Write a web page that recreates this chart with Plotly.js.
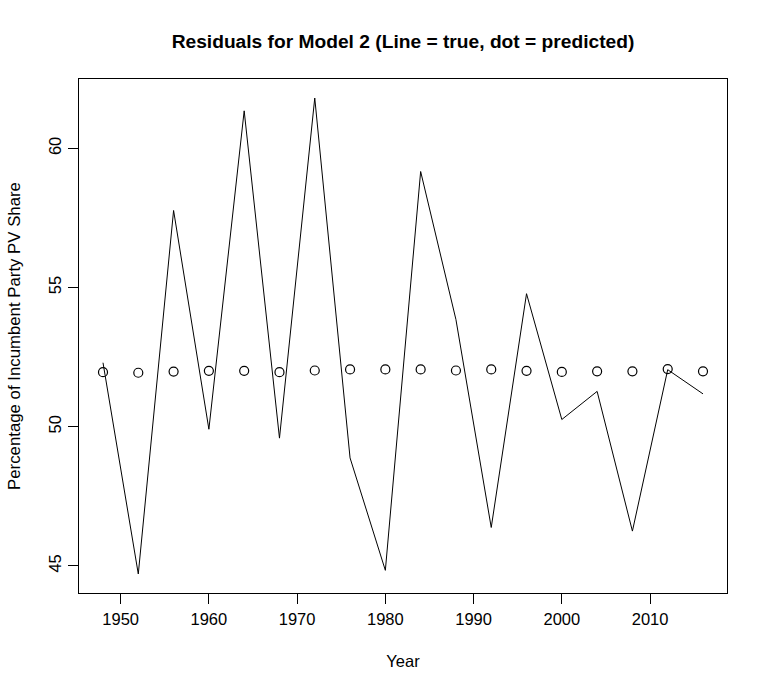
<!DOCTYPE html>
<html>
<head>
<meta charset="utf-8">
<script src="https://cdn.plot.ly/plotly-3.0.1.min.js"></script>
<style>html,body{margin:0;padding:0;background:#fff;}</style>
</head>
<body>
<div id="chart" style="width:768px;height:691px;"></div>
<script>
const years = [1948,1952,1956,1960,1964,1968,1972,1976,1980,1984,1988,1992,1996,2000,2004,2008,2012,2016];
const trueShare = [52.30,44.71,57.77,49.91,61.35,49.59,61.81,48.88,44.84,59.17,53.85,46.38,54.78,50.26,51.27,46.25,52.05,51.18];
const predShare = [51.96,51.94,51.98,52.01,52.01,51.96,52.02,52.06,52.06,52.06,52.02,52.06,52.01,51.97,51.99,51.99,52.07,51.99];
const xTicks = [1950,1960,1970,1980,1990,2000,2010];
const yTicks = [45,50,55,60];

const xmin = Math.min(...years), xmax = Math.max(...years);
const allY = trueShare.concat(predShare);
const ymin = Math.min(...allY), ymax = Math.max(...allY);
const xpad = (xmax - xmin) * 0.04, ypad = (ymax - ymin) * 0.04;

const font = "Liberation Sans, Arial, Helvetica, sans-serif";

const traces = [
  {x: years, y: trueShare, type: 'scatter', mode: 'lines',
   line: {color: '#000', width: 1}, hoverinfo: 'skip'},
  {x: years, y: predShare, type: 'scatter', mode: 'markers',
   marker: {symbol: 'circle-open', size: 9, color: '#000', line: {width: 1.2, color: '#000'}}, hoverinfo: 'skip'}
];

const layout = {
  width: 768, height: 691,
  margin: {l: 79, r: 40.5, t: 78.5, b: 98.3, pad: 0},
  paper_bgcolor: '#fff', plot_bgcolor: '#fff',
  showlegend: false,
  font: {family: font, color: '#000', size: 16},
  title: {text: '<b>Residuals for Model 2 (Line = true, dot = predicted)</b>',
          font: {family: font, size: 19.2, color: '#000'},
          x: 0.5, xanchor: 'center', xref: 'paper', y: 1 - 41/691, yanchor: 'middle'},
  xaxis: {
    range: [xmin - xpad, xmax + xpad],
    tickvals: xTicks, ticktext: xTicks.map(String),
    ticks: 'outside', ticklen: 10, tickwidth: 1, tickcolor: '#000',
    ticklabelstandoff: 1,
    showgrid: false, zeroline: false,
    showline: true, linecolor: '#000', linewidth: 1, mirror: true,
    tickfont: {family: font, size: 16.5, color: '#000'},
    title: {text: 'Year', font: {family: font, size: 16.5, color: '#000'}, standoff: 28},
    automargin: false
  },
  yaxis: {
    range: [ymin - ypad, ymax + ypad],
    tickvals: yTicks, ticktext: yTicks.map(String),
    ticks: 'outside', ticklen: 10, tickwidth: 1, tickcolor: '#000',
    tickangle: -90,
    showgrid: false, zeroline: false,
    showline: true, linecolor: '#000', linewidth: 1, mirror: true,
    tickfont: {family: font, size: 16.5, color: '#000'},
    title: {text: 'Percentage of Incumbent Party PV Share', font: {family: font, size: 16.8, color: '#000'}, standoff: 21},
    automargin: false
  }
};

Plotly.newPlot('chart', traces, layout, {displayModeBar: false, staticPlot: true});
</script>
</body>
</html>
